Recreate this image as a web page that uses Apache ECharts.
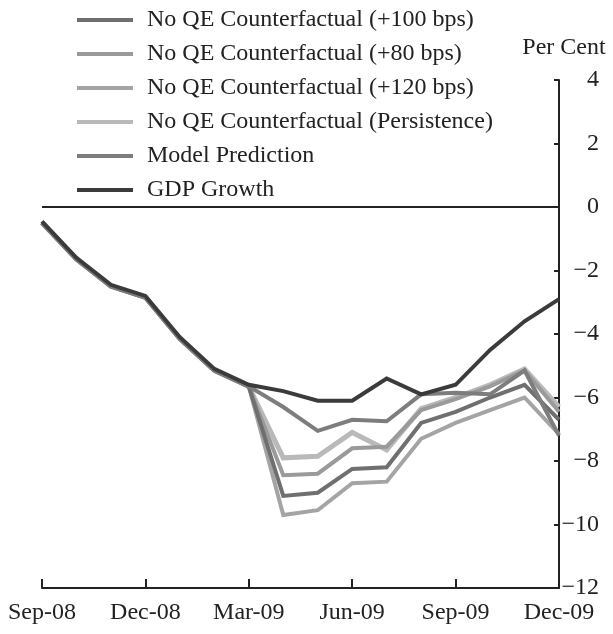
<!DOCTYPE html>
<html>
<head>
<meta charset="utf-8">
<script src="https://cdn.jsdelivr.net/npm/echarts@6/dist/echarts.min.js"></script>
<style>
html,body{margin:0;padding:0;background:#fff;}
#chart{width:613px;height:634px;}
</style>
</head>
<body>
<div id="chart"></div>
<script>
const months = ['Sep-08','Oct-08','Nov-08','Dec-08','Jan-09','Feb-09','Mar-09','Apr-09','May-09','Jun-09','Jul-09','Aug-09','Sep-09','Oct-09','Nov-09','Dec-09'];
const gdpGrowth      = [-0.45,-1.6,-2.45,-2.8,-4.1,-5.1,-5.6,-5.8,-6.1,-6.1,-5.4,-5.9,-5.6,-4.5,-3.6,-2.9];
const modelPred      = [-0.5,-1.65,-2.5,-2.85,-4.15,-5.15,-5.65,-6.3,-7.05,-6.7,-6.75,-5.9,-5.85,-5.9,-5.15,-7.2];
const cf100          = [-0.5,-1.65,-2.5,-2.85,-4.15,-5.15,-5.65,-9.1,-9.0,-8.25,-8.2,-6.8,-6.45,-6.0,-5.6,-6.7];
const cf80           = [-0.5,-1.65,-2.5,-2.85,-4.15,-5.15,-5.65,-8.45,-8.4,-7.6,-7.55,-6.4,-6.05,-5.65,-5.15,-6.45];
const cf120          = [-0.5,-1.65,-2.5,-2.85,-4.15,-5.15,-5.65,-9.7,-9.55,-8.7,-8.65,-7.3,-6.8,-6.4,-6.0,-7.15];
const cfPersist      = [-0.5,-1.65,-2.5,-2.85,-4.15,-5.15,-5.65,-7.9,-7.85,-7.1,-7.65,-6.35,-6.0,-5.6,-5.1,-6.3];
const yTicks = [4,2,0,-2,-4,-6,-8,-10,-12];

const names = ['No QE Counterfactual (+100 bps)','No QE Counterfactual (+80 bps)','No QE Counterfactual (+120 bps)','No QE Counterfactual (Persistence)','Model Prediction','GDP Growth'];
const colors = {
  'No QE Counterfactual (+100 bps)':'#6f6f6f',
  'No QE Counterfactual (+80 bps)':'#9a9a9a',
  'No QE Counterfactual (+120 bps)':'#a4a4a4',
  'No QE Counterfactual (Persistence)':'#b9b9b9',
  'Model Prediction':'#7d7d7d',
  'GDP Growth':'#3b3b3b'
};
const FONT = '"Liberation Serif","Times New Roman",serif';

function line(name, data, width, z){
  return {name, type:'line', data, symbol:'none', z,
    lineStyle:{color:colors[name], width, join:'miter'},
    itemStyle:{color:colors[name]}};
}

const chart = echarts.init(document.getElementById('chart'), null, {renderer:'canvas'});
chart.setOption({
  animation:false,
  backgroundColor:'#fff',
  grid:{left:42, right:54, top:80, bottom:46, containLabel:false},
  legend:{
    data:names, orient:'vertical', left:72, top:3,
    icon:'rect', itemWidth:56, itemHeight:4, itemGap:10,
    textStyle:{fontFamily:FONT, fontSize:24, color:'#222', lineHeight:24, padding:[0,0,0,9]},
    selectedMode:false
  },
  xAxis:{
    type:'category', data:months, boundaryGap:false,
    axisLine:{onZero:false, lineStyle:{color:'#222', width:2}},
    axisTick:{inside:true, length:9, interval:2, lineStyle:{color:'#222', width:2}},
    axisLabel:{interval:2, margin:13, fontFamily:FONT, fontSize:24, color:'#222'},
    splitLine:{show:false}
  },
  yAxis:{
    type:'value', position:'right', min:-12, max:4, interval:2,
    name:'Per Cent', nameLocation:'end', nameGap:20,
    nameTextStyle:{fontFamily:FONT, fontSize:24, color:'#222', align:'center', padding:[0,0,0,10]},
    axisLine:{show:true, lineStyle:{color:'#222', width:2}},
    axisTick:{show:true, inside:true, length:5, lineStyle:{color:'#222', width:2}},
    axisLabel:{margin:40, align:'right', fontFamily:FONT, fontSize:24, color:'#222',
      formatter:v=>yTicks.indexOf(v)>=0 ? (v<0 ? '\u2212'+Math.abs(v) : String(v)) : ''},
    splitLine:{show:false}
  },
  series:[
    line('No QE Counterfactual (Persistence)', cfPersist, 5, 2),
    line('No QE Counterfactual (+120 bps)', cf120, 4, 3),
    line('No QE Counterfactual (+80 bps)', cf80, 4, 3),
    line('No QE Counterfactual (+100 bps)', cf100, 4, 4),
    line('Model Prediction', modelPred, 4, 5),
    Object.assign(line('GDP Growth', gdpGrowth, 4, 6), {
      markLine:{silent:true, symbol:'none', label:{show:false},
        lineStyle:{color:'#222', width:2, type:'solid'},
        data:[{yAxis:0}]}
    })
  ]
});
</script>
</body>
</html>
